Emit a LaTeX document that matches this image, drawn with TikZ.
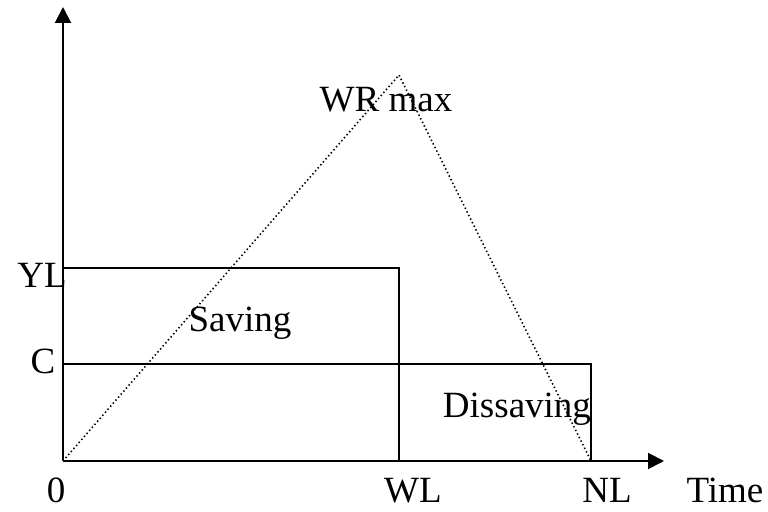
\documentclass[tikz,border=0pt]{standalone}
\usepackage{fontspec}
\setmainfont{Liberation Serif}
\usetikzlibrary{arrows.meta}

\begin{document}
\begin{tikzpicture}[
x=0.5pt, y=-0.5pt,
axis/.style={line width=1pt, -{Triangle[length=8pt,width=8pt]}},
level/.style={line width=0.75pt},
wealth/.style={line width=0.8pt, dash pattern=on 0.7pt off 1.3pt},
lbl/.style={anchor=base, inner sep=0pt, font=\fontsize{18.5}{22}\selectfont}
]
\useasboundingbox (0,0) rectangle (768,512);
% points of the diagram
\coordinate (O) at (63,461);
\coordinate (ytop) at (63,7);
\coordinate (xend) at (664,461);
\coordinate (WL) at (399,461);
\coordinate (NL) at (591,461);
\coordinate (YL) at (63,268);
\coordinate (C) at (63,364);
\coordinate (peak) at (399,75);
% income and consumption
\draw[level] (YL) -| (WL);
\draw[level] (C) -| (NL);
% wealth
\draw[wealth] (O) -- (peak) -- (NL);
% axes
\draw[axis] (O) -- (ytop);
\draw[axis] (O) -- (xend);
% labels
\node[lbl] (l0) at (56,503) {0};
\node[lbl] (lWL) at (413,503) {WL};
\node[lbl] (lNL) at (607,503) {NL};
\node[lbl] (time) at (725,503) {Time};
\node[lbl] (lYL) at (42,288) {YL};
\node[lbl] (lC) at (43,374) {C};
\node[lbl] (wr) at (386,112) {WR max};
\node[lbl] (sav) at (240,332) {Saving};
\node[lbl] (dis) at (517,418) {Dissaving};
\end{tikzpicture}
\end{document}
